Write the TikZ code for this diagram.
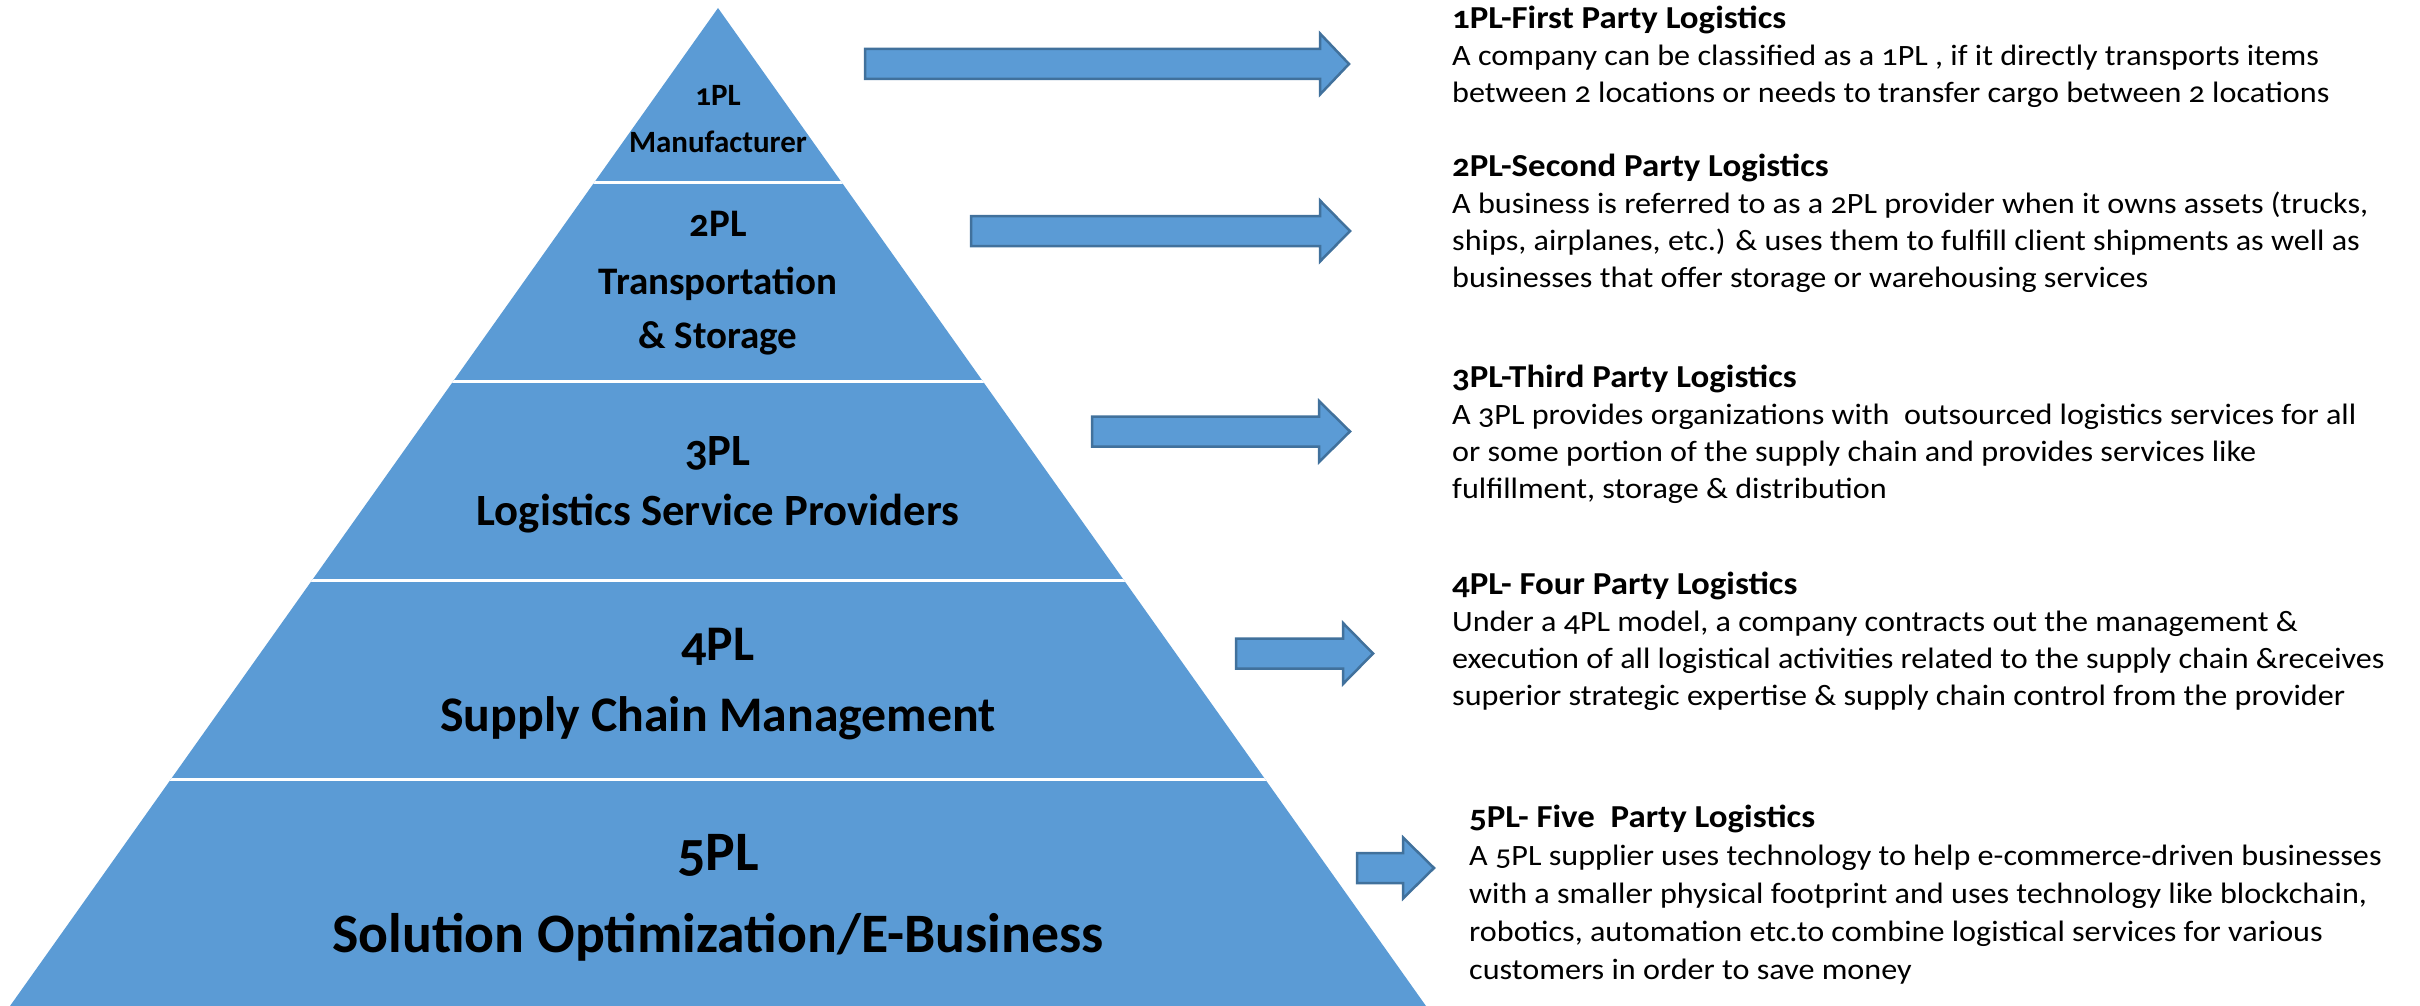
\documentclass[tikz,border=0pt]{standalone}
\usepackage{fontspec}
\setmainfont{Carlito}[Numbers=OldStyle]
\newfontfamily\descfont{Carlito}[Numbers=OldStyle, FakeStretch=1.09]
\definecolor{pyrblue}{HTML}{5B9BD5}
\definecolor{arrowedge}{HTML}{41719C}
\tikzset{
  blockarrow/.style={fill=pyrblue, draw=arrowedge, line width=2.5pt, line join=miter},
  sepline/.style={white, line width=3pt},
  lvl/.style={anchor=base, inner sep=0pt, font=\bfseries},
  desc/.style={anchor=base west, inner sep=0pt}
}
% block arrow: left end, head base, tip, vertical centre
\newcommand{\fatarrow}[4]{%
  \draw[blockarrow] (#1,#4-15) -- (#2,#4-15) -- (#2,#4-30.5) -- (#3,#4)
    -- (#2,#4+30.5) -- (#2,#4+15) -- (#1,#4+15) -- cycle;}
% heading line and body of a description block
\newcommand{\deschead}[1]{{\bfseries\fontsize{32}{37}\selectfont #1}}
\newcommand{\descblock}[2][37]{\parbox[t]{1000pt}{\raggedright\descfont\fontsize{29.5}{#1}\selectfont #2\par}}
\begin{document}
\begin{tikzpicture}[x=1pt,y=-1pt]
\useasboundingbox (0,0) rectangle (2420,1006);

% pyramid
\fill[pyrblue] (718,8) -- (1426,1006) -- (10,1006) -- cycle;
\begin{scope}
  \clip (718,8) -- (1426,1006) -- (10,1006) -- cycle;
  \foreach \yy in {182,381,580,779} \draw[sepline] (0,\yy) -- (2420,\yy);
\end{scope}

% level labels
\node[lvl, font=\bfseries\fontsize{31}{36}\selectfont] (l1a) at (718,106) {1PL};
\node[lvl, font=\bfseries\fontsize{31}{36}\selectfont] (l1b) at (718,153) {Manufacturer};
\node[lvl, font=\bfseries\fontsize{39}{46}\selectfont] (l2a) at (718,236) {2PL};
\node[lvl, font=\bfseries\fontsize{39}{46}\selectfont] (l2b) at (718,294) {Transportation};
\node[lvl, font=\bfseries\fontsize{39}{46}\selectfont] (l2c) at (718,348) {\& Storage};
\node[lvl, font=\bfseries\fontsize{44.7}{52}\selectfont] (l3a) at (718,465) {3PL};
\node[lvl, font=\bfseries\fontsize{44.7}{52}\selectfont] (l3b) at (718,525) {Logistics Service Providers};
\node[lvl, font=\bfseries\fontsize{49.8}{58}\selectfont] (l4a) at (718,660) {4PL};
\node[lvl, font=\bfseries\fontsize{49.8}{58}\selectfont] (l4b) at (718,731) {Supply Chain Management};
\node[lvl, font=\bfseries\fontsize{55.7}{64}\selectfont] (l5a) at (718,870) {5PL};
\node[lvl, font=\bfseries\fontsize{55.7}{64}\selectfont] (l5b) at (718,952) {Solution Optimization/E-Business};

% arrows
\fatarrow{865}{1320}{1349}{64}
\fatarrow{971}{1320}{1350}{231}
\fatarrow{1092}{1319}{1350}{431.5}
\fatarrow{1236}{1343}{1373}{653.5}
\fatarrow{1357}{1403}{1434}{868}

% descriptions
\node[desc] (d1) at (1452,29) {\descblock{%
  \deschead{1PL-First Party Logistics}\\
  A company can be classified as a 1PL , if it directly transports items\\
  between 2 locations or needs to transfer cargo between 2 locations}};
\node[desc] (d2) at (1452,176) {\descblock{%
  \deschead{2PL-Second Party Logistics}\\
  A business is referred to as a 2PL provider when it owns assets (trucks,\\
  ships, airplanes, etc.) \& uses them to fulfill client shipments as well as\\
  businesses that offer storage or warehousing services}};
\node[desc] (d3) at (1452,387) {\descblock{%
  \deschead{3PL-Third Party Logistics}\\
  A 3PL provides organizations with\ \ outsourced logistics services for all\\
  or some portion of the supply chain and provides services like\\
  fulfillment, storage \& distribution}};
\node[desc] (d4) at (1452,594) {\descblock{%
  \deschead{4PL- Four Party Logistics}\\
  Under a 4PL model, a company contracts out the management \&\\
  execution of all logistical activities related to the supply chain \&receives\\
  superior strategic expertise \& supply chain control from the provider}};
\node[desc] (d5) at (1469,827) {\descblock[38]{%
  \deschead{5PL- Five\ \ Party Logistics}\\
  A 5PL supplier uses technology to help e-commerce-driven businesses\\
  with a smaller physical footprint and uses technology like blockchain,\\
  robotics, automation etc.to combine logistical services for various\\
  customers in order to save money}};
\end{tikzpicture}
\end{document}
